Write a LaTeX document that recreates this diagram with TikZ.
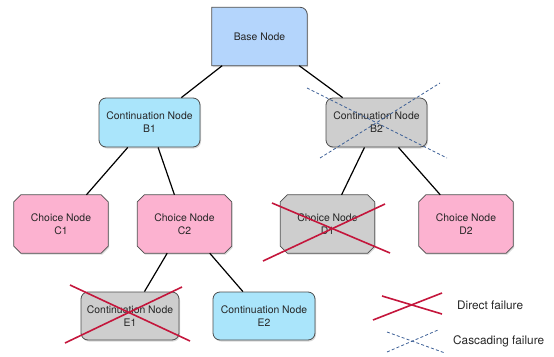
\documentclass[tikz,border=0pt]{standalone}
\usepackage{fontspec}
\setmainfont{TeX Gyre Heros}
\usetikzlibrary{shadows,backgrounds}
\definecolor{basefill}{RGB}{180,213,252}
\definecolor{contfill}{RGB}{170,229,251}
\definecolor{choicefill}{RGB}{252,178,208}
\definecolor{failfill}{RGB}{206,206,206}
\definecolor{nodeline}{RGB}{77,77,77}
\definecolor{directred}{RGB}{196,22,60}
\definecolor{cascblue}{RGB}{60,95,150}

\begin{document}
\begin{tikzpicture}[x=1pt,y=-1pt]
\tikzset{nodetext/.style={text=black!85, font=\fontsize{10.4}{13}\selectfont, align=center, inner sep=0pt},
  shadowed/.style={drop shadow={shadow xshift=1pt, shadow yshift=-1.5pt, opacity=0.3}},
  outline/.style={draw=nodeline, line width=0.8pt, shadowed},
  basebox/.style={nodetext, minimum width=95pt, minimum height=58pt},
  contbox/.style={nodetext, outline, rounded corners=7pt, minimum width=101pt, minimum height=49pt},
  choicebox/.style={nodetext, minimum width=94pt, minimum height=58pt},
  link/.style={line width=1.2pt},
  direct/.style={draw=directred, line width=1.6pt},
  cascade/.style={draw=cascblue, line width=0.8pt, dash pattern=on 3pt off 2.2pt},
  legendtext/.style={font=\fontsize{11.8}{14}\selectfont, text=black!85, anchor=west, inner sep=0pt}}
\useasboundingbox (0,0) rectangle (554,356);
% nodes of the tree
\node[basebox] (base) at (259.5,36.5) {Base Node};
\node[contbox, fill=contfill] (B1) at (149.5,122.5) {Continuation Node\\B1};
\node[contbox, fill=failfill] (B2) at (376.5,122.5) {Continuation Node\\B2};
\node[choicebox] (C1) at (61,224) {Choice Node\\C1};
\node[choicebox] (C2) at (184.5,224) {Choice Node\\C2};
\node[choicebox] (D1) at (327.5,224) {Choice Node\\D1};
\node[choicebox] (D2) at (466,224) {Choice Node\\D2};
\node[contbox, fill=failfill, minimum width=98pt, minimum height=48pt] (E1) at (130,316) {Continuation Node\\E1};
\node[contbox, fill=contfill, minimum width=102pt, minimum height=48pt] (E2) at (264,316) {Continuation Node\\E2};
\begin{scope}[on background layer]
\filldraw[fill=basefill, outline] (base.south west) -- (base.north west) -- ([xshift=-7pt]base.north east) arc[start angle=90, end angle=0, radius=7pt] -- (base.south east) -- cycle;
\foreach \n/\c in {C1/choicefill, C2/choicefill, D1/failfill, D2/choicefill}
  \filldraw[fill=\c, outline] ([xshift=7pt]\n.north west) -- ([xshift=-7pt]\n.north east) -- ([yshift=-7pt]\n.north east) -- ([yshift=7pt]\n.south east) -- ([xshift=-7pt]\n.south east) -- ([xshift=7pt]\n.south west) -- ([yshift=7pt]\n.south west) -- ([yshift=-7pt]\n.north west) -- cycle;
\end{scope}
% links
\draw[link] (base) -- (B1);
\draw[link] (base) -- (B2);
\draw[link] (B1) -- (C1);
\draw[link] (B1) -- (C2);
\draw[link] (B2) -- (D1);
\draw[link] (B2) -- (D2);
\draw[link] (C2) -- (E1);
\draw[link] (C2) -- (E2);
% failures
\draw[cascade] (307,88) -- (447,158);
\draw[cascade] (320,158) -- (440,83);
\draw[direct] (272,203) -- (390,253);
\draw[direct] (263,261) -- (385,204);
\draw[direct] (70,285) -- (190,341);
\draw[direct] (65,343) -- (182,287);
% legend
\draw[direct] (373,320) -- (442,293);
\draw[direct] (382,296) -- (442,314);
\node[legendtext] (directlbl) at (457,305) {Direct failure};
\draw[cascade] (387,332) -- (445,353);
\draw[cascade] (387,352) -- (438,330);
\node[legendtext] (cascadelbl) at (453,341) {Cascading failure};
\end{tikzpicture}
\end{document}
